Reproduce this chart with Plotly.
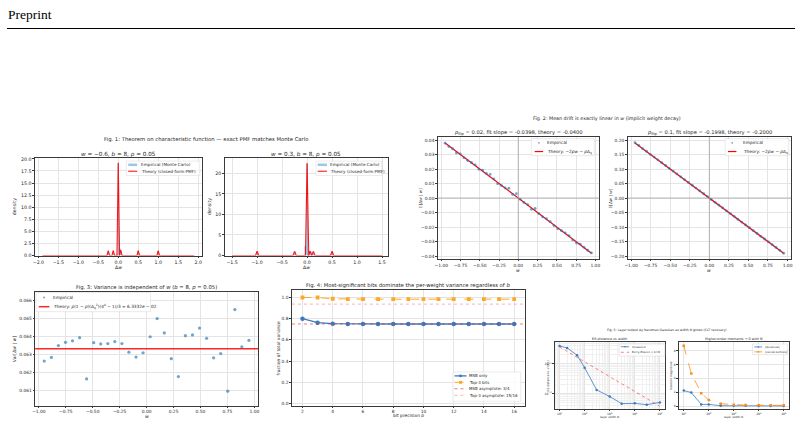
import plotly.graph_objects as go

W, H = 804, 429
FONT = "DejaVu Sans"
TXT = "#262626"

# ---------------- data ----------------
# Fig 1 (PMF spikes)
f1a_spike_x = [-0.25, -0.125, 0.0, 0.0625, 0.5, 1.0]
f1a_spike_h = [1.0, 1.0, 19.2, 1.15, 1.0, 1.0]
f1a_emp_x = [-0.25, -0.125, -0.035, 0.0, 0.035, 0.07, 0.5, 1.0]
f1a_emp_h = [0.95, 1.05, 0.4, 19.1, 1.5, 0.9, 1.0, 0.95]
f1a_span = [-1.9, 1.9]
f1b_spike_x = [-1.0, -0.25, 0.0, 0.0625, 0.125, 0.5]
f1b_spike_h = [1.05, 1.0, 22.5, 1.05, 1.0, 1.05]
f1b_emp_x = [-1.0, -0.25, -0.035, 0.0, 0.035, 0.07, 0.125, 0.5]
f1b_emp_h = [1.0, 1.05, 2.3, 22.3, 1.2, 1.0, 1.0, 1.0]
f1b_span = [-1.5, 1.5]

# Fig 2 (mean drift)
f2_w = [-0.95, -0.901, -0.853, -0.804, -0.755, -0.706, -0.658, -0.609, -0.56, -0.512,
        -0.463, -0.414, -0.365, -0.317, -0.268, -0.219, -0.171, -0.122, -0.073, -0.024,
        0.024, 0.073, 0.122, 0.171, 0.219, 0.268, 0.317, 0.365, 0.414, 0.463,
        0.512, 0.56, 0.609, 0.658, 0.706, 0.755, 0.804, 0.853, 0.901, 0.95]
f2a_emp = [0.0378, 0.0355, 0.0340, 0.0310, 0.0305, 0.0278, 0.0258, 0.0245, 0.0228, 0.0198,
           0.0192, 0.0170, 0.0163, 0.0132, 0.0098, 0.0085, 0.0070, 0.0068, 0.0025, 0.0030,
           -0.0008, -0.0030, -0.0045, -0.0078, -0.0072, -0.0108, -0.0130, -0.0142, -0.0163, -0.0190,
           -0.0212, -0.0225, -0.0240, -0.0260, -0.0290, -0.0310, -0.0318, -0.0340, -0.0360, -0.0378]
f2b_emp = [0.1905, 0.1810, 0.1702, 0.1612, 0.1508, 0.1413, 0.1318, 0.1220, 0.1121, 0.1025,
           0.0928, 0.0830, 0.0732, 0.0632, 0.0538, 0.0440, 0.0342, 0.0245, 0.0148, 0.0050,
           -0.0049, -0.0146, -0.0243, -0.0342, -0.0440, -0.0536, -0.0631, -0.0731, -0.0830, -0.0928,
           -0.1022, -0.1121, -0.1220, -0.1318, -0.1412, -0.1510, -0.1608, -0.1705, -0.1802, -0.1902]
f2_theory_w = [-0.95, 0.95]
f2a_theory = [0.038, -0.038]
f2b_theory = [0.190, -0.190]

# Fig 3 (variance vs w)
f3_w = [-0.95, -0.884, -0.819, -0.753, -0.688, -0.622, -0.557, -0.491, -0.426, -0.36,
        -0.295, -0.229, -0.164, -0.098, -0.033, 0.033, 0.098, 0.164, 0.229, 0.295,
        0.36, 0.426, 0.491, 0.557, 0.622, 0.688, 0.753, 0.819, 0.884, 0.95]
f3_var = [0.06265, 0.06285, 0.06351, 0.06369, 0.06377, 0.06395, 0.06166, 0.06367, 0.06360, 0.06362,
          0.06373, 0.06362, 0.06314, 0.06287, 0.06311, 0.06400, 0.06501, 0.06421, 0.06278, 0.06179,
          0.06406, 0.06410, 0.06448, 0.06391, 0.06283, 0.06307, 0.06098, 0.06551, 0.06344, 0.06380]
f3_theory = 0.063332

# Fig 4 (bit contributions)
f4_bits = [2, 3, 4, 5, 6, 7, 8, 9, 10, 11, 12, 13, 14, 15, 16]
f4_msb = [0.800, 0.762, 0.753, 0.7507, 0.7502, 0.7500, 0.7500, 0.7500, 0.7500, 0.7500,
          0.7500, 0.7500, 0.7500, 0.7500, 0.7500]
f4_top3 = [1.000, 1.000, 0.988, 0.985, 0.9844, 0.9844, 0.9844, 0.9844, 0.9844, 0.9844,
           0.9844, 0.9844, 0.9844, 0.9844, 0.9844]
f4_asym = [0.75, 0.9375]

# Fig 5 (CLT recovery)
f5_N = [10, 20, 50, 100, 300, 1000, 3000, 10000, 30000, 100000]
f5_ks = [0.398, 0.341, 0.194, 0.0736, 0.0132, 0.0079, 0.00453, 0.00464, 0.00419, 0.0050]
f5_be = [0.369, 0.261, 0.165, 0.117, 0.0674, 0.0369, 0.0213, 0.0117, 0.00674, 0.00369]
f5_skew = [2.24, 1.95, 0.24, 0.24, 0.05, 0.05, 0.05, 0.02, 0.02, 0.02]
f5_kurt = [8.7, 4.7, 1.86, 0.86, 0.33, 0.19, 0.14, 0.10, 0.10, 0.10]

# ---------------- helpers ----------------
def X(p): return p / W
def Y(p): return 1 - p / H

traces, shapes, annotations = [], [], []
layout = dict(width=W, height=H, margin=dict(l=0, r=0, t=0, b=0), autosize=False,
              paper_bgcolor="white", plot_bgcolor="white", showlegend=False,
              font=dict(family=FONT, color=TXT))

def add_axes(n, box, xr, yr, xkw, ykw, tfs):
    s = '' if n == 1 else str(n)
    x0, y0, x1, y1 = box
    base = dict(showline=True, mirror=True, linecolor='#3a3a3a', linewidth=0.7,
                ticks='outside', ticklen=1.6, tickwidth=0.5, tickcolor='#3a3a3a',
                showgrid=True, gridcolor='#e4e4e4', gridwidth=0.5, zeroline=False,
                tickfont=dict(family=FONT, size=tfs, color=TXT))
    layout['xaxis' + s] = dict(base, domain=[X(x0), X(x1)], anchor='y' + s, range=xr, **xkw)
    layout['yaxis' + s] = dict(base, domain=[Y(y1), Y(y0)], anchor='x' + s, range=yr, **ykw)
    return 'x' + s, 'y' + s

def text(s, x, y, size, anchor='center', angle=0, color=TXT, family=FONT):
    annotations.append(dict(text=s, x=X(x), y=Y(y), xref='paper', yref='paper', showarrow=False,
                            xanchor=anchor, yanchor='middle', textangle=angle, borderpad=0,
                            font=dict(size=size, family=family, color=color)))

def hline(xa, ya, v, color, width, dash='solid'):
    shapes.append(dict(type='line', xref=xa + ' domain', x0=0, x1=1, yref=ya, y0=v, y1=v,
                       line=dict(color=color, width=width, dash=dash), layer='above'))

def vline(xa, ya, v, color, width):
    shapes.append(dict(type='line', yref=ya + ' domain', y0=0, y1=1, xref=xa, x0=v, x1=v,
                       line=dict(color=color, width=width), layer='above'))

def marker_shape(cx, cy, r, color, kind):
    shapes.append(dict(type='circle' if kind == 'circle' else 'rect', xref='paper', yref='paper',
                       x0=X(cx - r), x1=X(cx + r), y0=Y(cy + r), y1=Y(cy - r),
                       fillcolor=color, line=dict(width=0)))

def legend(box, rows, fs, hx0, hx1, tx, mr=1.2):
    shapes.append(dict(type='rect', xref='paper', yref='paper', x0=X(box[0]), x1=X(box[2]),
                       y0=Y(box[3]), y1=Y(box[1]), fillcolor='rgba(255,255,255,0.85)',
                       line=dict(color='#d6d6d6', width=0.5)))
    for (y, kind, color, dash, mk, label, lw) in rows:
        if kind == 'patch':
            shapes.append(dict(type='rect', xref='paper', yref='paper', x0=X(hx0), x1=X(hx1),
                               y0=Y(y + 1.3), y1=Y(y - 1.3), fillcolor=color, line=dict(width=0)))
        elif kind == 'line':
            shapes.append(dict(type='line', xref='paper', yref='paper', x0=X(hx0), x1=X(hx1),
                               y0=Y(y), y1=Y(y), line=dict(color=color, width=lw, dash=dash)))
        if mk:
            marker_shape((hx0 + hx1) / 2, y, mr, color, mk)
        text(label, tx, y, fs, anchor='left')

def spikes_line(span, xs, hs, d):
    lx, ly = [span[0]], [0]
    for x, h in sorted(zip(xs, hs)):
        lx += [x - d, x, x + d]
        ly += [0, h, 0]
    lx.append(span[1]); ly.append(0)
    return lx, ly

def log_minor(k0, k1):
    return [m * 10.0 ** k for k in range(k0, k1) for m in range(2, 10)]

TF = 4.7      # tick font, figs 1-4
TF5 = 3.0     # tick font, fig 5

# ---------------- header ----------------
text("Preprint", 4, 13, 13.5, anchor='left', color='black', family='Liberation Serif')
shapes.append(dict(type='line', xref='paper', yref='paper', x0=X(4), x1=X(797), y0=Y(26.8), y1=Y(26.8),
                   line=dict(color='black', width=1.1)))

# ---------------- Fig 1 ----------------
text("Fig. 1: Theorem on characteristic function — exact PMF matches Monte Carlo", 204, 139, 5.3)
panels1 = [
    (1, (32, 158, 200, 256.5), [-2.09, 2.09], [0, 20.15],
     dict(dtick=0.5, tick0=0, tickformat='.1f'), dict(dtick=2.5, tick0=0, tickformat='.1f'),
     f1a_spike_x, f1a_spike_h, f1a_emp_x, f1a_emp_h, f1a_span,
     "<i>w</i> = −0.6, <i>b</i> = 8, <i>p</i> = 0.05", 11.5),
    (2, (223, 158, 387, 256.5), [-1.65, 1.61], [0, 23.7],
     dict(dtick=0.5, tick0=0, tickformat='.1f'), dict(dtick=5, tick0=0),
     f1b_spike_x, f1b_spike_h, f1b_emp_x, f1b_emp_h, f1b_span,
     "<i>w</i> = 0.3, <i>b</i> = 8, <i>p</i> = 0.05", 208.5),
]
for (n, box, xr, yr, xkw, ykw, sx, sh, ex, eh, span, title, ylx) in panels1:
    xa, ya = add_axes(n, box, xr, yr, xkw, ykw, TF)
    traces.append(go.Bar(x=ex, y=eh, width=0.035, xaxis=xa, yaxis=ya,
                         marker=dict(color='rgba(31,119,180,0.42)', line=dict(width=0)),
                         name='Empirical (Monte Carlo)'))
    lx, ly = spikes_line(span, sx, sh, 0.033)
    traces.append(go.Scatter(x=lx, y=ly, mode='lines', xaxis=xa, yaxis=ya,
                             line=dict(color='rgba(255,0,0,0.9)', width=1.1),
                             name='Theory (closed-form PMF)'))
    text(title, (box[0] + box[2]) / 2, 154, 5.7)
    text("density", ylx, (box[1] + box[3]) / 2, 4.7, angle=-90)
    text("Δ<i>w</i>", (box[0] + box[2]) / 2, 269, 4.7)
legend((124, 161, 198, 175.5),
       [(164.7, 'patch', 'rgba(31,119,180,0.42)', None, None, 'Empirical (Monte Carlo)', 1),
        (171.2, 'line', 'red', 'solid', None, 'Theory (closed-form PMF)', 1.0)],
       4.2, 126, 135, 137.5)
legend((315, 161, 381, 175.5),
       [(164.7, 'patch', 'rgba(31,119,180,0.42)', None, None, 'Empirical (Monte Carlo)', 1),
        (171.2, 'line', 'red', 'solid', None, 'Theory (closed-form PMF)', 1.0)],
       4.2, 316.7, 326, 328.3)

# ---------------- Fig 2 ----------------
text("Fig. 2: Mean drift is exactly linear in <i>w</i> (implicit weight decay)", 608, 117.5, 4.8)
panels2 = [
    (3, (437.5, 136.7, 599.5, 260), [-1.045, 1.045], [-0.042, 0.042],
     dict(dtick=0.01, tick0=0, tickformat='.2f'), f2a_emp, f2a_theory,
     "<i>p</i><sub>flip</sub> = 0.02, fit slope = -0.0398, theory = -0.0400", 420,
     (531.7, 138.3, 595, 155.5), 535, 543.5, 546.7),
    (4, (628.5, 136.7, 793, 260), [-1.045, 1.045], [-0.21, 0.21],
     dict(dtick=0.05, tick0=0, tickformat='.2f'), f2b_emp, f2b_theory,
     "<i>p</i><sub>flip</sub> = 0.1, fit slope = -0.1998, theory = -0.2000", 610.5,
     (726.7, 138.3, 790.7, 155.5), 729.5, 738, 743.3),
]
for (n, box, xr, yr, ykw, emp, th, title, ylx, lbox, hx0, hx1, tx) in panels2:
    xa, ya = add_axes(n, box, xr, yr, dict(dtick=0.25, tick0=0, tickformat='.2f'), ykw, 4.4)
    hline(xa, ya, 0, '#9a9a9a', 0.7)
    vline(xa, ya, 0, '#9a9a9a', 0.7)
    traces.append(go.Scatter(x=f2_theory_w, y=th, mode='lines', xaxis=xa, yaxis=ya,
                             line=dict(color='red', width=1.3), name='Theory'))
    traces.append(go.Scatter(x=f2_w, y=emp, mode='markers', xaxis=xa, yaxis=ya,
                             marker=dict(color='rgba(31,119,180,0.65)', size=2.8), name='Empirical'))
    text(title, (box[0] + box[2]) / 2, 131.7, 5.2)
    text("𝔼[Δ<i>w</i> | <i>w</i>]", ylx, (box[1] + box[3]) / 2, 4.2, angle=-90)
    text("<i>w</i>", (box[0] + box[2]) / 2, 271.5, 4.6)
    legend(lbox,
           [(142.5, 'marker', 'rgba(31,119,180,0.65)', None, 'circle', 'Empirical', 1),
            (151.3, 'line', 'red', 'solid', None, 'Theory: −2<i>pw</i> − <i>p</i>Δ<sub>q</sub>', 1.2)],
           4.3, hx0, hx1, tx, mr=0.9)

# ---------------- Fig 3 ----------------
xa, ya = add_axes(5, (32.3, 293.3, 256.7, 408.3), [-1.035, 1.035], [0.06018, 0.06649],
                  dict(dtick=0.25, tick0=0, tickformat='.2f'),
                  dict(dtick=0.001, tick0=0.06, tickformat='.3f'), 4.4)
hline(xa, ya, f3_theory, 'rgba(255,0,0,0.85)', 1.6)
traces.append(go.Scatter(x=f3_w, y=f3_var, mode='markers', xaxis=xa, yaxis=ya,
                         marker=dict(color='rgba(31,119,180,0.65)', size=3.2), name='Empirical'))
text("Fig. 3: Variance is independent of <i>w</i> (<i>b</i> = 8, <i>p</i> = 0.05)", 144.5, 288.5, 5.3)
text("Var[Δ<i>w</i> | <i>w</i>]", 11.5, 350.8, 4.6, angle=-90)
text("<i>w</i>", 144.5, 419.5, 4.7)
legend((33.3, 294, 148.5, 313.3),
       [(299, 'marker', 'rgba(31,119,180,0.65)', None, 'circle', 'Empirical', 1),
        (308.3, 'line', 'rgba(255,0,0,0.85)', 'solid', None,
         'Theory: <i>p</i>(1 − <i>p</i>)(Δ<sub>q</sub><sup>2</sup>)(4<sup><i>b</i></sup> − 1)/3 = 6.3332<i>e</i> − 02', 1.5)],
       4.3, 36, 46.7, 49.3, mr=1.0)

# ---------------- Fig 4 ----------------
xa, ya = add_axes(6, (290.7, 291.7, 525, 408.3), [1.3, 16.7], [-0.02, 1.068],
                  dict(dtick=2, tick0=0), dict(dtick=0.2, tick0=0, tickformat='.1f'), 4.4)
hline(xa, ya, f4_asym[0], 'rgba(230,30,30,0.75)', 0.8, 'dot')
hline(xa, ya, f4_asym[1], 'rgba(240,110,110,0.65)', 0.8, 'dot')
traces.append(go.Scatter(x=f4_bits, y=f4_msb, mode='lines+markers', xaxis=xa, yaxis=ya,
                         line=dict(color='#3b7bbf', width=1.3),
                         marker=dict(color='#3b7bbf', size=4.5, symbol='circle'), name='MSB only'))
traces.append(go.Scatter(x=f4_bits, y=f4_top3, mode='lines+markers', xaxis=xa, yaxis=ya,
                         line=dict(color='#ffa726', width=1.0, dash='dash'),
                         marker=dict(color='#ffa726', size=3.8, symbol='square'), name='Top-3 bits'))
text("Fig. 4: Most-significant bits dominate the per-weight variance regardless of <i>b</i>", 408, 286.8, 5.3)
text("fraction of total variance", 277.3, 350, 4.4, angle=-90)
text("bit precision <i>b</i>", 408, 418.8, 4.4)
legend((452.7, 374.3, 521, 404),
       [(378.3, 'line', '#3b7bbf', 'solid', 'circle', 'MSB only', 1.3),
        (384.8, 'line', '#ffa726', 'dash', 'square', 'Top-3 bits', 1.0),
        (391.3, 'line', 'rgba(230,30,30,0.75)', 'dot', None, 'MSB asymptote: 3/4', 0.8),
        (398.0, 'line', 'rgba(240,110,110,0.65)', 'dot', None, 'Top-3 asymptote: 15/16', 0.8)],
       4.0, 454.3, 466.5, 468, mr=1.5)

# ---------------- Fig 5 ----------------
text("Fig. 5: Layer output Δ<i>y</i> becomes Gaussian as width <i>N</i> grows (CLT recovery)", 668, 332.3, 3.2)
logx = dict(type='log', tickvals=[10, 100, 1000, 10000, 100000],
            ticktext=['10<sup>1</sup>', '10<sup>2</sup>', '10<sup>3</sup>', '10<sup>4</sup>', '10<sup>5</sup>'])
MINOR = dict(showgrid=True, gridcolor='#f0f0f0', gridwidth=0.4, ticks='')
xa, ya = add_axes(7, (555, 344, 666, 411.7), [0.8, 5.2], [-2.52, -0.267],
                  dict(logx, minor=dict(MINOR, tickmode='array', tickvals=log_minor(0, 6))),
                  dict(type='log', tickvals=[0.01, 0.1], ticktext=['10<sup>−2</sup>', '10<sup>−1</sup>'],
                       minor=dict(MINOR, tickmode='array', tickvals=log_minor(-3, 0))), TF5)
traces.append(go.Scatter(x=f5_N, y=f5_be, mode='lines', xaxis=xa, yaxis=ya,
                         line=dict(color='rgba(255,40,40,0.75)', width=0.8, dash='dot'),
                         name='Berry–Esseen ∝ 1/√N'))
traces.append(go.Scatter(x=f5_N, y=f5_ks, mode='lines+markers', xaxis=xa, yaxis=ya,
                         line=dict(color='#3b7bbf', width=0.8),
                         marker=dict(color='#3b7bbf', size=2.5), name='measured'))
text("KS-distance vs width", 610.5, 341.2, 3.4)
text("KS distance to 𝒩(0,1)", 548.3, 378, 2.9, angle=-90)
text("layer width <i>N</i>", 610.5, 419.5, 2.9)
legend((620, 346, 666, 358.3),
       [(348.8, 'line', '#3b7bbf', 'solid', 'circle', 'measured', 0.8),
        (354.4, 'line', 'rgba(255,40,40,0.75)', 'dot', None, 'Berry–Esseen ∝ 1/√<i>N</i>', 0.8)],
       2.7, 621.7, 630, 632.3, mr=0.8)

xa, ya = add_axes(8, (680, 344, 790.7, 411.7), [0.8, 5.2], [-0.41, 9.25],
                  logx, dict(dtick=2, tick0=0), TF5)
traces.append(go.Scatter(x=f5_N, y=f5_skew, mode='lines+markers', xaxis=xa, yaxis=ya,
                         line=dict(color='#3b7bbf', width=0.8),
                         marker=dict(color='#3b7bbf', size=2.5), name='|skewness|'))
traces.append(go.Scatter(x=f5_N, y=f5_kurt, mode='lines+markers', xaxis=xa, yaxis=ya,
                         line=dict(color='#ff8c1a', width=0.8, dash='dash'),
                         marker=dict(color='#ff8c1a', size=2.5, symbol='square'), name='|excess kurtosis|'))
text("Higher-order moments → 0 with <i>N</i>", 735.3, 341.2, 3.4)
text("moment magnitude", 671.7, 378, 2.9, angle=-90)
text("layer width <i>N</i>", 735.3, 419.5, 2.9)
legend((754.3, 346, 789.3, 356.8),
       [(349, 'line', '#3b7bbf', 'solid', 'circle', '|skewness|', 0.8),
        (354, 'line', '#ff8c1a', 'dash', 'square', '|excess kurtosis|', 0.8)],
       2.7, 756, 764, 765.7, mr=0.8)

layout['shapes'] = shapes
layout['annotations'] = annotations
fig = go.Figure(data=traces, layout=layout)
fig.write_html("out.html")
